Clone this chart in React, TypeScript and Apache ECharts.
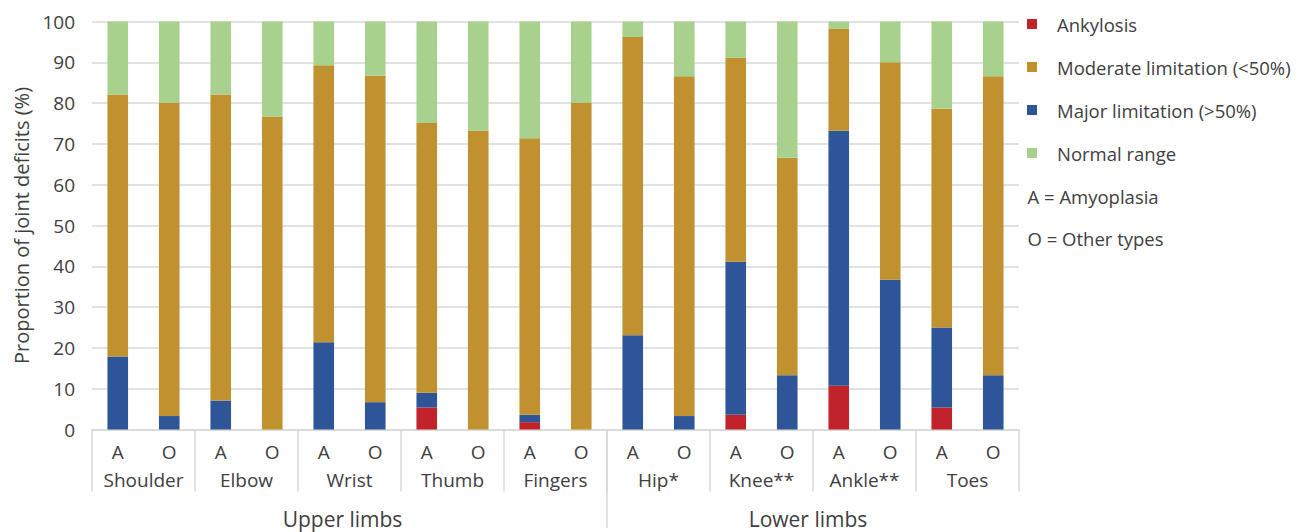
import React, { useEffect, useRef } from "react";
import * as echarts from "echarts";

const joints = ["Shoulder", "Elbow", "Wrist", "Thumb", "Fingers", "Hip*", "Knee**", "Ankle**", "Toes"];
const types = ["A", "O"];
const barLabels = joints.flatMap(() => types);
const limbGroups = ["Upper limbs", "Lower limbs"];
const notes = ["A = Amyoplasia", "O = Other types"];

const ankylosis = [0, 0, 0, 0, 0, 0, 5.4, 0, 1.8, 0, 0, 0, 3.6, 0, 10.7, 0, 5.4, 0];
const major = [17.9, 3.3, 7.1, 0, 21.4, 6.7, 3.6, 0, 1.8, 0, 23.1, 3.3, 37.5, 13.3, 62.5, 36.7, 19.6, 13.3];
const moderate = [64.2, 76.7, 75, 76.7, 67.9, 80, 66.1, 73.3, 67.8, 80, 73.1, 83.3, 50, 53.3, 25, 53.3, 53.6, 73.3];
const normal = [17.9, 20, 17.9, 23.3, 10.7, 13.3, 25, 26.7, 28.6, 20, 3.8, 13.4, 8.9, 33.4, 1.8, 10, 21.4, 13.4];

const seriesNames = ["Ankylosis", "Major limitation (>50%)", "Moderate limitation (<50%)", "Normal range"];
const legendOrder = ["Ankylosis", "Moderate limitation (<50%)", "Major limitation (>50%)", "Normal range"];
const colors = ["#C1232B", "#2D5597", "#BF912F", "#A9D18E"];

const FONT = "'Open Sans', 'Noto Sans', sans-serif";
const TXT = "#404040";
const GRIDC = "#d9d9d9";

export default function App() {
  const ref = useRef<HTMLDivElement>(null);
  useEffect(() => {
    document.body.style.margin = "0";
    if (!ref.current) return;
    const chart = echarts.init(ref.current, undefined, { renderer: "svg" });
    const values = [ankylosis, major, moderate, normal];
    const gridLeft = 92;
    const gridRight = 1019;
    const axisY = 429.5;
    const catW = (gridRight - gridLeft) / barLabels.length;
    const splitX = gridLeft + 10 * catW;
    chart.setOption({
      animation: false,
      textStyle: { fontFamily: FONT },
      grid: { left: gridLeft, right: 1305 - gridRight, top: 21.5, bottom: 532 - axisY, containLabel: false },
      legend: {
        data: legendOrder,
        orient: "vertical",
        left: 1027,
        top: 14,
        padding: 0,
        itemWidth: 10,
        itemHeight: 10,
        itemGap: 23,
        icon: "rect",
        textStyle: { fontFamily: FONT, fontSize: 18.5, color: TXT, lineHeight: 20, padding: [0, 0, 0, 15] },
      },
      xAxis: [
        {
          type: "category",
          data: barLabels,
          position: "bottom",
          axisLine: { show: true, lineStyle: { color: GRIDC, width: 1.5 } },
          axisTick: { show: false },
          axisLabel: { interval: 0, margin: 13, fontSize: 19, color: TXT, fontFamily: FONT },
        },
        {
          type: "category",
          data: joints,
          position: "bottom",
          axisLine: { show: false },
          axisTick: { show: true, interval: 0, length: 62, lineStyle: { color: GRIDC, width: 1.5 } },
          axisLabel: { interval: 0, margin: 41, fontSize: 19, color: TXT, fontFamily: FONT },
        },
      ],
      yAxis: {
        type: "value",
        min: 0,
        max: 100,
        interval: 10,
        name: "Proportion of joint deficits (%)",
        nameLocation: "middle",
        nameGap: 60,
        nameTextStyle: { fontSize: 20, color: TXT, fontFamily: FONT },
        axisLine: { show: false },
        axisTick: { show: false },
        axisLabel: { fontSize: 19, color: TXT, margin: 17, fontFamily: FONT },
        splitLine: { lineStyle: { color: GRIDC, width: 1.5 } },
      },
      series: seriesNames.map((name, i) => ({
        name,
        type: "bar",
        stack: "total",
        xAxisIndex: 0,
        barWidth: "40%",
        itemStyle: { color: colors[i] },
        data: values[i],
      })),
      graphic: [
        {
          type: "line",
          shape: { x1: splitX, y1: axisY, x2: splitX, y2: 528 },
          style: { stroke: GRIDC, lineWidth: 1.5 },
        },
        {
          type: "text",
          x: gridLeft + 5 * catW - 7,
          y: 519,
          style: { text: limbGroups[0], fontSize: 21, fill: TXT, fontFamily: FONT, align: "center", verticalAlign: "middle" },
        },
        {
          type: "text",
          x: splitX + 4 * catW - 5,
          y: 519,
          style: { text: limbGroups[1], fontSize: 21, fill: TXT, fontFamily: FONT, align: "center", verticalAlign: "middle" },
        },
        ...notes.map((t, i) => ({
          type: "text",
          x: 1027.5,
          y: 196 + i * 42.5,
          style: { text: t, fontSize: 18.5, fill: TXT, fontFamily: FONT, align: "left", verticalAlign: "middle" },
        })),
      ],
    });
    return () => chart.dispose();
  }, []);
  return <div ref={ref} style={{ width: 1305, height: 532 }} />;
}
